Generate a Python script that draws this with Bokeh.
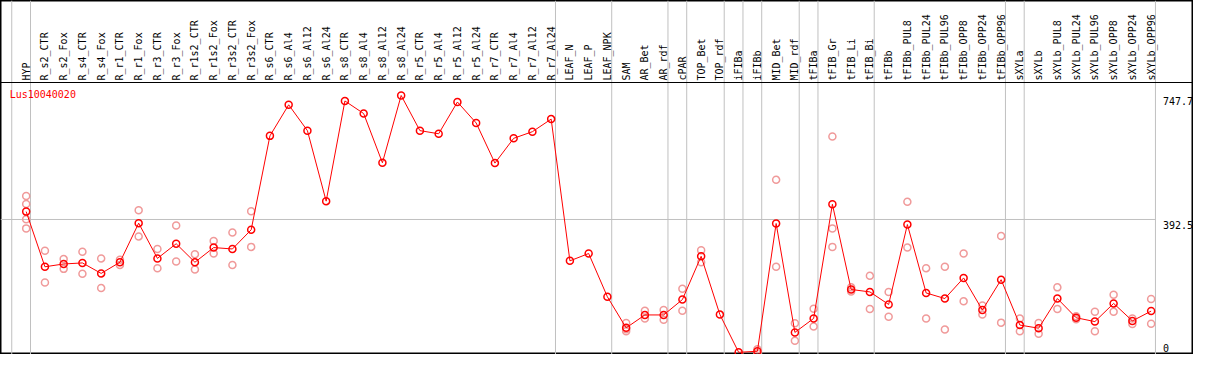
import math
from bokeh.plotting import figure
from bokeh.models import Range1d, Span
from bokeh.core.properties import value
from bokeh.embed import file_html
from bokeh.resources import INLINE

gene = "Lus10040020"

labels = [
    "HYP", "R_s2_CTR", "R_s2_Fox", "R_s4_CTR", "R_s4_Fox", "R_r1_CTR", "R_r1_Fox",
    "R_r3_CTR", "R_r3_Fox", "R_r1s2_CTR", "R_r1s2_Fox", "R_r3s2_CTR", "R_r3s2_Fox",
    "R_s6_CTR", "R_s6_Al4", "R_s6_Al12", "R_s6_Al24", "R_s8_CTR", "R_s8_Al4",
    "R_s8_Al12", "R_s8_Al24", "R_r5_CTR", "R_r5_Al4", "R_r5_Al12", "R_r5_Al24",
    "R_r7_CTR", "R_r7_Al4", "R_r7_Al12", "R_r7_Al24", "LEAF_N", "LEAF_P", "LEAF_NPK",
    "SAM", "AR_Bet", "AR_rdf", "cPAR", "TOP_Bet", "TOP_rdf", "iFIBa", "iFIBb",
    "MID_Bet", "MID_rdf", "tFIBa", "tFIB_Gr", "tFIB_Li", "tFIB_Bi", "tFIBb",
    "tFIBb_PUL8", "tFIBb_PUL24", "tFIBb_PUL96", "tFIBb_OPP8", "tFIBb_OPP24",
    "tFIBb_OPP96", "sXYLa", "sXYLb", "sXYLb_PUL8", "sXYLb_PUL24", "sXYLb_PUL96",
    "sXYLb_OPP8", "sXYLb_OPP24", "sXYLb_OPP96",
]

means = [
    415, 257, 265, 268, 238, 270, 382, 281, 323, 270, 312, 308, 363,
    632, 721, 647, 445, 732, 696, 555, 747.7, 647, 638, 729, 669,
    554, 625, 644, 680, 274, 295, 171, 82, 119, 119, 163, 287, 120,
    12, 15, 381, 69, 109, 436, 192, 185, 149, 378, 182, 166, 225,
    133, 220, 90, 81, 166, 111, 100, 152, 102, 130,
]

replicates = [
    [460, 437, 393, 367], [303, 212], [279, 251], [300, 237], [281, 196],
    [277, 262], [419, 344], [308, 253], [375, 272], [293, 249], [331, 295],
    [355, 262], [416, 314],
    [], [], [], [], [], [], [], [], [], [], [], [], [], [], [], [],
    [], [], [],
    [96, 78, 72], [131, 109], [133, 105], [194, 131], [304, 270], [], [],
    [21, 9], [506, 257], [95, 45], [137, 86], [630, 367, 314], [198, 186],
    [231, 136], [185, 114], [443, 312], [253, 109], [257, 77], [295, 158],
    [146, 120], [345, 97], [109, 72], [96, 65], [198, 136], [115, 107],
    [128, 72], [177, 128], [109, 93], [165, 94],
]

group_ends = [0, 1, 29, 32, 35, 36, 38, 39, 40, 42, 43, 46, 53, 54, 61]
tick_vals = [0, 392.5, 747.7]

# ---- layout / style constants ----
W, H = 1193, 354
X0, X1 = -0.37, 63.26
Y0, Y1 = 5.7, 1019.8
PPU = H / (Y1 - Y0)          # pixels per data unit (vertical)
SEP = Y1 - 82 / PPU           # separator between label area and plot area
GOFF = 0.23                   # group line offset
TICK_X = 61.63
MONO = value("DejaVu Sans Mono")
RED = "#ff0000"
PINK = "#f09a9a"
GRAY = "#c0c0c0"

xs = list(range(1, len(labels) + 1))
rx = [i + 1 for i, r in enumerate(replicates) for _ in r]
ry = [v for r in replicates for v in r]

p = figure(width=W, height=H, output_backend="svg", toolbar_location=None,
           x_range=Range1d(X0, X1), y_range=Range1d(Y0, Y1),
           x_axis_location=None, y_axis_location=None, min_border=0)
p.grid.visible = False
p.outline_line_color = "black"
p.outline_line_width = 2
p.background_fill_color = "white"
p.border_fill_color = "white"

# group separator lines (full height)
gx = [g + GOFF for g in group_ends]
p.segment(x0=gx, y0=[Y0] * len(gx), x1=gx, y1=[Y1] * len(gx),
          line_color=GRAY, line_width=1)

# mid gridline
p.segment(x0=[X0], y0=[tick_vals[1]], x1=[group_ends[-1] + GOFF], y1=[tick_vals[1]],
          line_color=GRAY, line_width=1)

# separator under label area
p.add_layout(Span(location=SEP, dimension="width", line_color="black", line_width=1))

# category labels
p.text(x=xs, y=[SEP + 2 / PPU] * len(xs), text=labels, angle=math.pi / 2,
       text_align="left", text_baseline="middle", text_font=MONO,
       text_font_size="10px", text_color="black")

# replicates
p.scatter(rx, ry, marker="circle", size=7, fill_color=None,
          line_color=PINK, line_width=1.5)

# mean line + markers
p.line(xs, means, line_color=RED, line_width=1)
p.scatter(xs, means, marker="circle", size=7, fill_color=None,
          line_color=RED, line_width=1.5)

# title
p.text(x=[0.12], y=[SEP - 12 / PPU], text=[gene], text_align="left",
       text_baseline="middle", text_font=MONO, text_font_size="10px",
       text_color=RED)

# value ticks on right
p.text(x=[TICK_X] * 2, y=[v - 2 / PPU for v in tick_vals[1:]],
       text=[f"{v:g}" for v in tick_vals[1:]], text_align="left",
       text_baseline="top", text_font=MONO, text_font_size="10px",
       text_color="black")
p.text(x=[TICK_X], y=[tick_vals[0] + 4 / PPU], text=[f"{tick_vals[0]:g}"],
       text_align="left", text_baseline="bottom", text_font=MONO,
       text_font_size="10px", text_color="black")

open("out.html", "w").write(file_html(p, INLINE))
